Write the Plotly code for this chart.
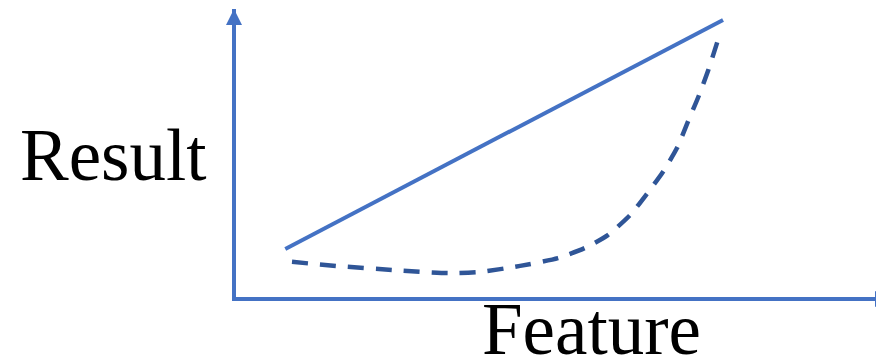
import plotly.graph_objects as go

### Data (arbitrary units 0-10) ###
linear_feature = [0.77, 7.61]
linear_result = [1.67, 9.62]

curve_feature = [0.875, 1.56, 2.44, 3.31, 3.81, 4.44, 5.03, 5.45, 5.81,
                 6.16, 6.42, 6.67, 6.89, 7.06, 7.23, 7.38, 7.53]
curve_result = [1.22, 1.08, 0.94, 0.83, 0.87, 1.08, 1.35, 1.70, 2.15,
                2.85, 3.58, 4.34, 5.17, 6.08, 6.98, 7.88, 8.92]

x_label = "Feature"
y_label = "Result"

axis_blue = "#4472C4"
dark_blue = "#2F5597"

fig = go.Figure()
fig.add_trace(go.Scatter(x=linear_feature, y=linear_result, mode="lines",
                         line=dict(color=axis_blue, width=4), showlegend=False,
                         hoverinfo="skip"))
fig.add_trace(go.Scatter(x=curve_feature, y=curve_result, mode="lines",
                         line=dict(color=dark_blue, width=4.5, dash="16px,12px",
                                   shape="spline", smoothing=0.6),
                         showlegend=False, hoverinfo="skip"))

# arrow heads at the end of the axes
fig.add_shape(type="path", xref="paper", yref="paper", xsizemode="pixel", ysizemode="pixel",
              xanchor=0, yanchor=1, path="M-10,-16 L6,-16 L-2,0 Z",
              fillcolor=axis_blue, line=dict(width=0))
fig.add_shape(type="path", xref="paper", yref="paper", xsizemode="pixel", ysizemode="pixel",
              xanchor=1, yanchor=0, path="M-1,6 L-1,-10 L15,-2 Z",
              fillcolor=axis_blue, line=dict(width=0))

label_font = dict(family="Liberation Serif", size=73, color="black")
fig.add_annotation(text=y_label, xref="paper", yref="paper", x=-0.191, y=0.49,
                   xanchor="center", yanchor="middle", showarrow=False, font=label_font)
fig.add_annotation(text=x_label, xref="paper", yref="paper", x=0.555, y=-0.112,
                   xanchor="center", yanchor="middle", showarrow=False, font=label_font)

fig.update_layout(
    width=876,
    height=357,
    margin=dict(l=236, r=0, t=9, b=60),
    plot_bgcolor="white",
    paper_bgcolor="white",
    xaxis=dict(range=[0, 10], showgrid=False, zeroline=False, showticklabels=False,
               ticks="", showline=True, linecolor=axis_blue, linewidth=4),
    yaxis=dict(range=[0, 10], showgrid=False, zeroline=False, showticklabels=False,
               ticks="", showline=True, linecolor=axis_blue, linewidth=4),
)

fig.write_html("out.html", post_script="document.body.style.margin = '0';",
               config={"displayModeBar": False})
